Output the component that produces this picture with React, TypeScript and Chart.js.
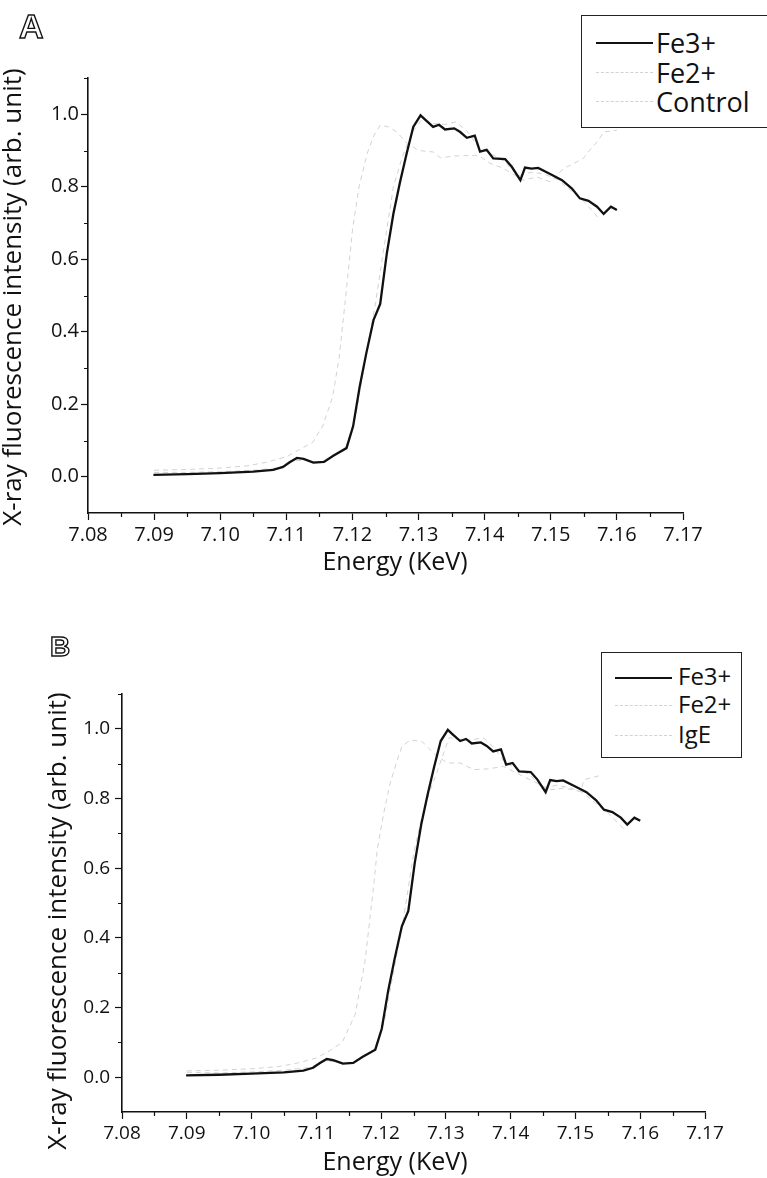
import React, { useEffect, useRef } from "react";
import { Chart, registerables } from "chart.js";

Chart.register(...registerables);

const FONT = "'Open Sans', 'DejaVu Sans', sans-serif";

// Axis ticks
const xTicks = [7.08, 7.09, 7.1, 7.11, 7.12, 7.13, 7.14, 7.15, 7.16, 7.17];
const xMinorTicks = [7.085, 7.095, 7.105, 7.115, 7.125, 7.135, 7.145, 7.155, 7.165];
const yTicks = [0.0, 0.2, 0.4, 0.6, 0.8, 1.0];
const yMinorTicks = [0.1, 0.3, 0.5, 0.7, 0.9, 1.1];

// Fe3+ (same spectrum in both panels)
const fe3Energy = [7.0899, 7.095, 7.1, 7.105, 7.108, 7.1095, 7.1105, 7.1116, 7.1126, 7.1141, 7.1157, 7.1171, 7.1191, 7.1201, 7.1211, 7.1221, 7.1232, 7.1242, 7.1252, 7.1262, 7.1272, 7.1282, 7.1292, 7.1303, 7.131, 7.1322, 7.1331, 7.134, 7.1354, 7.1363, 7.1373, 7.1385, 7.1393, 7.1403, 7.1413, 7.1431, 7.1441, 7.1454, 7.1461, 7.1471, 7.1481, 7.1499, 7.1517, 7.1532, 7.1544, 7.1557, 7.157, 7.158, 7.1591, 7.16];
const fe3Intensity = [0.005, 0.007, 0.01, 0.014, 0.019, 0.027, 0.04, 0.052, 0.049, 0.039, 0.041, 0.058, 0.079, 0.139, 0.249, 0.341, 0.433, 0.477, 0.616, 0.726, 0.813, 0.892, 0.965, 0.997, 0.985, 0.965, 0.971, 0.958, 0.961, 0.951, 0.935, 0.941, 0.897, 0.902, 0.878, 0.876, 0.855, 0.818, 0.853, 0.85, 0.852, 0.835, 0.818, 0.795, 0.768, 0.761, 0.745, 0.725, 0.745, 0.736];

// Panel A: Fe2+ and Control (faint traces)
const fe2EnergyA = [7.09, 7.095, 7.1, 7.104, 7.107, 7.11, 7.112, 7.114, 7.1155, 7.117, 7.118, 7.119, 7.12, 7.121, 7.1222, 7.1232, 7.1242, 7.1255, 7.1268, 7.128, 7.13, 7.1322, 7.1333, 7.1355, 7.139, 7.1408, 7.1428, 7.1458, 7.1479, 7.15, 7.1519, 7.1529, 7.1549, 7.1559, 7.1572, 7.158, 7.16];
const fe2IntensityA = [0.018, 0.02, 0.024, 0.03, 0.04, 0.055, 0.075, 0.095, 0.14, 0.22, 0.33, 0.5, 0.68, 0.8, 0.89, 0.94, 0.97, 0.965, 0.95, 0.924, 0.9, 0.896, 0.88, 0.885, 0.887, 0.865, 0.851, 0.818, 0.827, 0.813, 0.85, 0.859, 0.878, 0.901, 0.928, 0.951, 0.956];
const controlEnergy = [7.09, 7.095, 7.1, 7.105, 7.109, 7.111, 7.113, 7.115, 7.117, 7.119, 7.1205, 7.122, 7.1235, 7.125, 7.1262, 7.1275, 7.129, 7.1305, 7.132, 7.134, 7.1357, 7.1375, 7.139, 7.141, 7.143, 7.145, 7.147, 7.149, 7.151, 7.153, 7.155, 7.1575];
const controlIntensity = [0.012, 0.012, 0.014, 0.018, 0.025, 0.045, 0.045, 0.04, 0.055, 0.08, 0.17, 0.33, 0.48, 0.66, 0.8, 0.88, 0.95, 0.985, 0.975, 0.972, 0.979, 0.95, 0.91, 0.89, 0.87, 0.83, 0.84, 0.835, 0.82, 0.79, 0.76, 0.708];

// Panel B: Fe2+ and IgE (faint traces)
const fe2EnergyB = [7.09, 7.095, 7.1, 7.104, 7.107, 7.11, 7.112, 7.114, 7.116, 7.1175, 7.1189, 7.1194, 7.1204, 7.1214, 7.1225, 7.1232, 7.1245, 7.1263, 7.1281, 7.1302, 7.1322, 7.1343, 7.1365, 7.1389, 7.142, 7.1441, 7.1461, 7.1482, 7.1508, 7.1513, 7.1536];
const fe2IntensityB = [0.018, 0.02, 0.024, 0.03, 0.04, 0.055, 0.075, 0.1, 0.18, 0.33, 0.558, 0.653, 0.758, 0.844, 0.911, 0.949, 0.968, 0.964, 0.93, 0.902, 0.902, 0.883, 0.885, 0.892, 0.863, 0.844, 0.825, 0.83, 0.82, 0.854, 0.865];
const igeEnergy = [7.09, 7.095, 7.1, 7.105, 7.109, 7.111, 7.113, 7.115, 7.117, 7.119, 7.1205, 7.122, 7.1235, 7.125, 7.1262, 7.1275, 7.1287, 7.1305, 7.132, 7.134, 7.1357, 7.1375, 7.139, 7.141, 7.143, 7.145, 7.147, 7.149, 7.151, 7.153, 7.155, 7.1575];
const igeIntensity = [0.014, 0.012, 0.015, 0.02, 0.028, 0.045, 0.045, 0.04, 0.055, 0.08, 0.16, 0.31, 0.46, 0.64, 0.74, 0.82, 0.88, 0.975, 0.97, 0.968, 0.975, 0.945, 0.905, 0.885, 0.868, 0.828, 0.838, 0.832, 0.818, 0.788, 0.758, 0.712];

const X_TITLE = "Energy (KeV)";
const Y_TITLE = "X-ray fluorescence intensity (arb. unit)";

const FAINT = "#d2d2d2";

type Series = { label: string; energy: number[]; intensity: number[]; color: string; width: number; dash: number[] };

const minorTickPlugin = {
  id: "minorTicks",
  afterDraw(chart: any) {
    const { ctx, chartArea } = chart;
    const xs = chart.scales.x;
    const ys = chart.scales.y;
    ctx.save();
    ctx.strokeStyle = "#111";
    ctx.lineWidth = 1.2;
    ctx.beginPath();
    xMinorTicks.forEach((v) => {
      const px = Math.round(xs.getPixelForValue(v)) + 0.5;
      ctx.moveTo(px, chartArea.bottom);
      ctx.lineTo(px, chartArea.bottom + 4);
    });
    yMinorTicks.forEach((v) => {
      const py = Math.round(ys.getPixelForValue(v)) + 0.5;
      ctx.moveTo(chartArea.left - 4, py);
      ctx.lineTo(chartArea.left, py);
    });
    ctx.stroke();
    ctx.restore();
  },
};

type PanelProps = {
  top: number;
  height: number;
  plotLeft: number;
  plotRight: number;
  plotTop: number;
  plotBottom: number;
  tickSize: number;
  yPad: number;
  xPad: number;
  series: Series[];
};

function Panel(props: PanelProps) {
  const ref = useRef<HTMLCanvasElement | null>(null);
  useEffect(() => {
    const { height, plotLeft, plotRight, plotTop, plotBottom, tickSize, yPad, xPad, series } = props;
    const canvas = ref.current!;
    const chart = new Chart(canvas, {
      type: "line",
      data: {
        datasets: series.map((s) => ({
          label: s.label,
          data: s.energy.map((e, i) => ({ x: e, y: s.intensity[i] })),
          borderColor: s.color,
          borderWidth: s.width,
          borderDash: s.dash,
          pointRadius: 0,
          fill: false,
          tension: 0,
        })),
      },
      options: {
        animation: false,
        responsive: false,
        maintainAspectRatio: false,
        devicePixelRatio: 1,
        layout: { padding: { top: plotTop, right: 767 - plotRight, left: 0, bottom: 0 } },
        plugins: { legend: { display: false }, tooltip: { enabled: false } },
        scales: {
          x: {
            type: "linear",
            position: "bottom",
            min: 7.08,
            max: 7.17,
            border: { display: true, color: "#111", width: 1.6 },
            grid: { display: true, drawOnChartArea: false, drawTicks: true, tickLength: 7, tickColor: "#111", tickWidth: 1.2 },
            ticks: {
              color: "#111",
              font: { family: FONT, size: tickSize },
              padding: xPad,
              maxRotation: 0,
              autoSkip: false,
              callback: (v: any) => Number(v).toFixed(2),
            },
            afterBuildTicks: (s: any) => {
              s.ticks = xTicks.map((v) => ({ value: v }));
            },
            afterFit: (s: any) => {
              s.height = height - plotBottom;
            },
          },
          y: {
            type: "linear",
            position: "left",
            min: -0.1,
            max: 1.1,
            border: { display: true, color: "#111", width: 1.6 },
            grid: { display: true, drawOnChartArea: false, drawTicks: true, tickLength: 7, tickColor: "#111", tickWidth: 1.2 },
            ticks: {
              color: "#111",
              font: { family: FONT, size: tickSize },
              padding: yPad,
              callback: (v: any) => Number(v).toFixed(1),
            },
            afterBuildTicks: (s: any) => {
              s.ticks = yTicks.map((v) => ({ value: v }));
            },
            afterFit: (s: any) => {
              s.width = plotLeft;
            },
          },
        },
      },
      plugins: [minorTickPlugin],
    } as any);
    return () => chart.destroy();
  }, []);
  return (
    <canvas
      ref={ref}
      width={767}
      height={props.height}
      style={{ position: "absolute", left: 0, top: props.top, width: 767, height: props.height }}
    />
  );
}

// Text placed by baseline (line-height 1)
function Txt(props: { text: string; x: number; baseline: number; size: number; center?: boolean; family?: string; style?: any }) {
  const ratio = props.family ? 0.8465 : 0.888;
  return (
    <div
      style={{
        position: "absolute",
        left: props.x,
        top: props.baseline - ratio * props.size,
        fontFamily: props.family || FONT,
        fontSize: props.size,
        lineHeight: 1,
        whiteSpace: "nowrap",
        color: "#111",
        transform: props.center ? "translateX(-50%)" : undefined,
        ...(props.style || {}),
      }}
    >
      {props.text}
    </div>
  );
}

function YTitle(props: { cx: number; cy: number; size: number }) {
  return (
    <div
      style={{
        position: "absolute",
        left: props.cx,
        top: props.cy,
        fontFamily: FONT,
        fontSize: props.size,
        lineHeight: 1,
        whiteSpace: "nowrap",
        color: "#111",
        transform: "translate(-50%, -50%) rotate(-90deg)",
      }}
    >
      {Y_TITLE}
    </div>
  );
}

function Legend(props: {
  left: number; top: number; width: number; height: number;
  textLeft: number; sampleLeft: number; sampleRight: number;
  baselines: number[]; labels: string[]; size: number; sampleOffset: number;
}) {
  const styles = [
    { color: "#111", width: 2, dash: "solid" },
    { color: FAINT, width: 1, dash: "dashed" },
    { color: FAINT, width: 1, dash: "dashed" },
  ];
  return (
    <>
      <div
        style={{
          position: "absolute",
          left: props.left,
          top: props.top,
          width: props.width,
          height: props.height,
          border: "1.5px solid #222",
          background: "#fff",
          boxSizing: "border-box",
        }}
      />
      {props.labels.map((l, i) => (
        <React.Fragment key={l}>
          <div
            style={{
              position: "absolute",
              left: props.sampleLeft,
              width: props.sampleRight - props.sampleLeft,
              top: props.baselines[i] - props.sampleOffset,
              height: 0,
              borderTop: `${styles[i].width}px ${styles[i].dash} ${styles[i].color}`,
            }}
          />
          <Txt text={l} x={props.textLeft} baseline={props.baselines[i]} size={props.size} />
        </React.Fragment>
      ))}
    </>
  );
}

export default function App() {
  const seriesA: Series[] = [
    { label: "Fe3+", energy: fe3Energy, intensity: fe3Intensity, color: "#111", width: 2.3, dash: [] },
    { label: "Fe2+", energy: fe2EnergyA, intensity: fe2IntensityA, color: FAINT, width: 1, dash: [5, 4] },
    { label: "Control", energy: controlEnergy, intensity: controlIntensity, color: FAINT, width: 1, dash: [5, 4] },
  ];
  const seriesB: Series[] = [
    { label: "Fe3+", energy: fe3Energy, intensity: fe3Intensity, color: "#111", width: 2.3, dash: [] },
    { label: "Fe2+", energy: fe2EnergyB, intensity: fe2IntensityB, color: FAINT, width: 1, dash: [5, 4] },
    { label: "IgE", energy: igeEnergy, intensity: igeIntensity, color: FAINT, width: 1, dash: [5, 4] },
  ];
  const letterStyle = { color: "#fff", WebkitTextStroke: "1.4px #111", fontWeight: 700 };
  return (
    <div style={{ position: "absolute", left: 0, top: 0, width: 767, height: 1178, overflow: "hidden", background: "#fff" }}>
      {/* Panel A */}
      <Panel top={0} height={600} plotLeft={88} plotRight={683} plotTop={78} plotBottom={513} tickSize={20} yPad={2} xPad={3} series={seriesA} />
      <Txt text="A" x={19} baseline={38} size={34} family="'Liberation Sans', Arial, sans-serif" style={letterStyle} />
      <YTitle cx={11} cy={297} size={26} />
      <Txt text={X_TITLE} x={395} baseline={570} size={25} center />
      <Legend left={581} top={15} width={220} height={113} textLeft={656} sampleLeft={596} sampleRight={653}
        baselines={[53, 83, 112]} labels={["Fe3+", "Fe2+", "Control"]} size={27} sampleOffset={11} />

      {/* Panel B */}
      <Panel top={600} height={578} plotLeft={122} plotRight={705} plotTop={94} plotBottom={512} tickSize={19} yPad={5} xPad={3} series={seriesB} />
      <Txt text="B" x={50} baseline={657} size={28} family="'Liberation Sans', Arial, sans-serif" style={letterStyle} />
      <YTitle cx={56} cy={921} size={26} />
      <Txt text={X_TITLE} x={395} baseline={1170} size={25} center />
      <Legend left={601} top={652} width={141} height={106} textLeft={678} sampleLeft={615} sampleRight={672}
        baselines={[685, 713, 743]} labels={["Fe3+", "Fe2+", "IgE"]} size={24} sampleOffset={8} />
    </div>
  );
}
